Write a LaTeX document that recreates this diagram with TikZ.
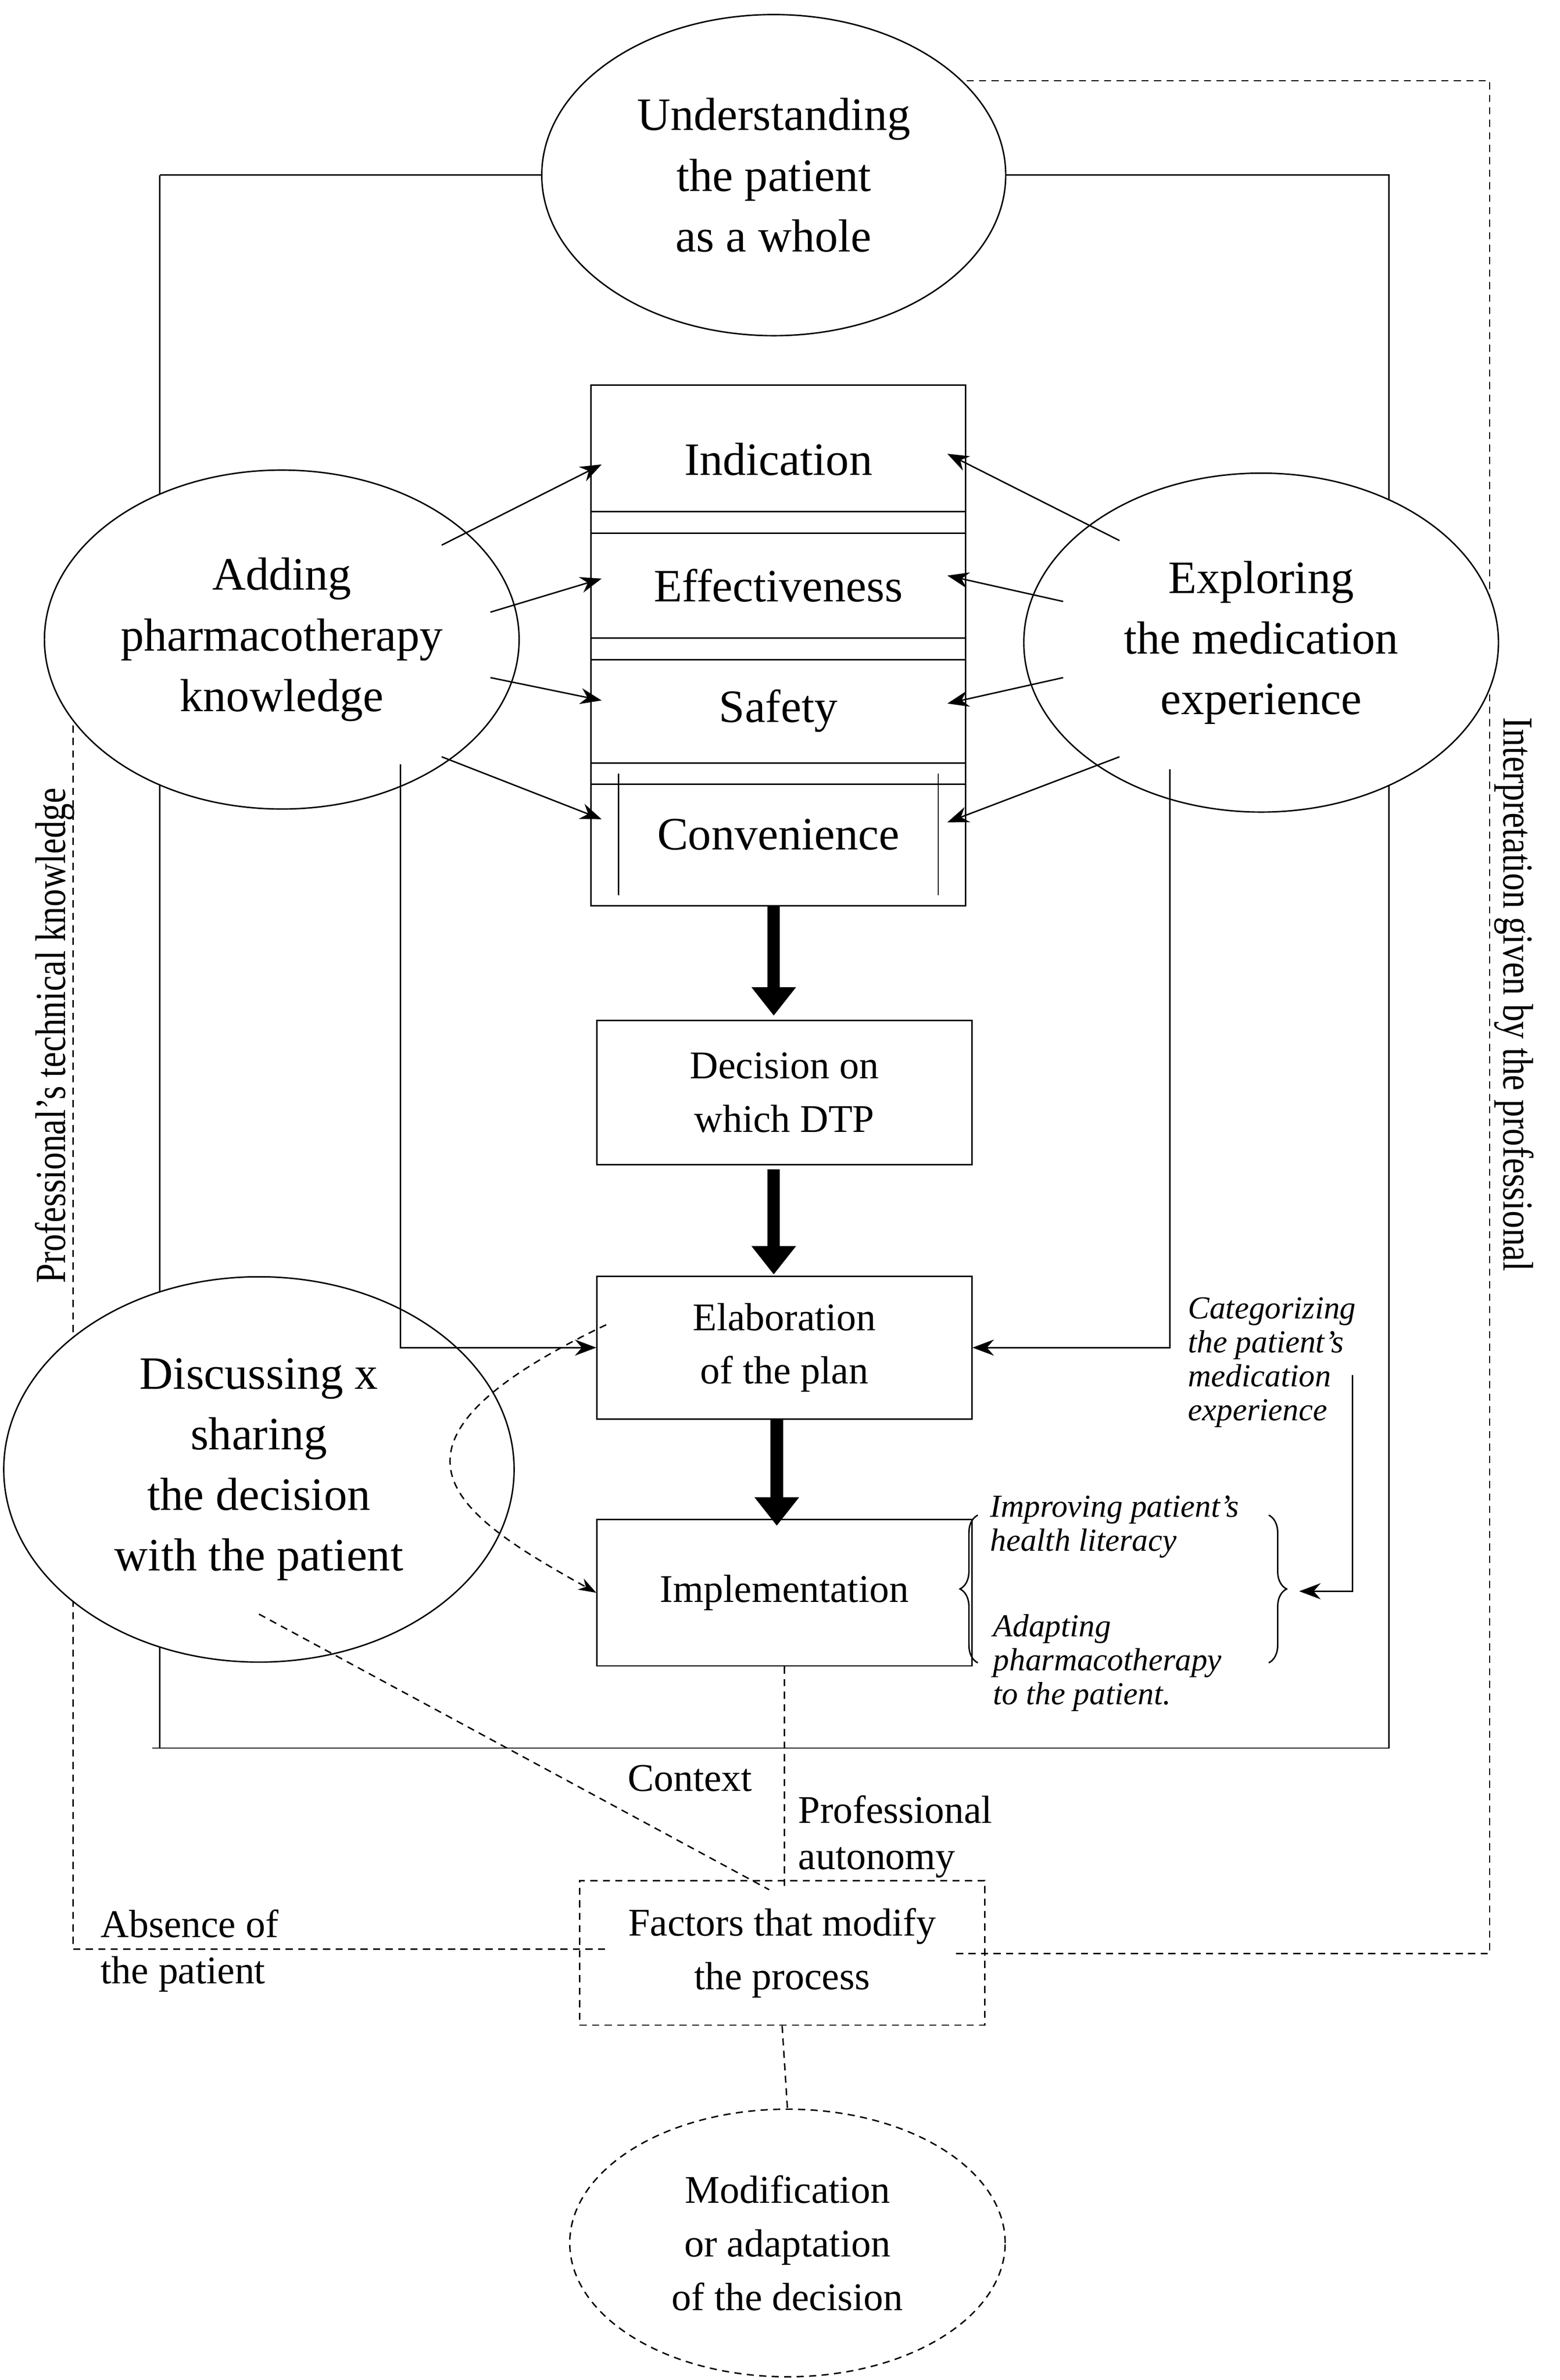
\documentclass[tikz,border=0pt]{standalone}
\usepackage{fontspec}
\setmainfont{Liberation Serif}
\usetikzlibrary{shapes.geometric,arrows.meta,decorations.pathreplacing}
\begin{document}
\begin{tikzpicture}[x=0.03cm,y=-0.03cm,
  big/.style={font=\fontsize{26}{34}\selectfont,align=center},
  mid/.style={font=\fontsize{22}{30}\selectfont,align=center},
  sm/.style={font=\fontsize{18}{19}\selectfont\itshape,align=left},
  lab/.style={font=\fontsize{22}{26}\selectfont,align=left},
  ell/.style={draw,ellipse,fill=white,inner sep=0pt,line width=0.8pt},
  box/.style={draw,rectangle,inner sep=0pt,line width=0.8pt},
  ln/.style={line width=0.8pt},
  dsh/.style={line width=0.8pt,dash pattern=on 4pt off 3pt},
  arr/.style={ln,-{Stealth[length=12pt,width=9pt]}},
  thick arr/.style={line width=7pt,-{Triangle[length=16pt,width=24pt]}}]
\useasboundingbox[fill=white] (0,0) rectangle (1024,1563);
% outer frame
\draw[ln] (105,115) -- (912,115) -- (912,1148) -- (100,1148) -- (105,1148) -- (105,115);
% dashed right frame
\draw[dsh] (610,53) -- (978,53) -- (978,1283) -- (627,1283);
% dashed left
\draw[dsh] (48,460) -- (48,1280) -- (400,1280);
% ellipses
\node[ell,big,minimum width=260,minimum height=180] (top) at (508,115) {Understanding\\the patient\\as a whole};
\node[ell,big,minimum width=266,minimum height=190] (add) at (185,420) {Adding\\pharmacotherapy\\knowledge};
\node[ell,big,minimum width=266,minimum height=190] (exp) at (828,422) {Exploring\\the medication\\experience};
\node[ell,big,minimum width=286,minimum height=216] (dis) at (170,965) {Discussing x\\sharing\\the decision\\with the patient};
% stack boxes
\node[box,big,minimum width=210,minimum height=83] (ind) at (511,301.5) {Indication};
\node[box,big,minimum width=210,minimum height=83] (eff) at (511,384.5) {Effectiveness};
\node[box,big,minimum width=210,minimum height=82] (saf) at (511,467) {Safety};
\node[box,big,minimum width=210,minimum height=80] (con) at (511,548) {Convenience};
\draw[ln] (406,588) -- (406,508); \draw[ln] (616,588) -- (616,508);
\node[box,mid,minimum width=210,minimum height=81] (dec) at (515,717.5) {Decision on\\which DTP};
\node[box,mid,minimum width=210,minimum height=80] (ela) at (515,885) {Elaboration\\of the plan};
\node[box,mid,minimum width=210,minimum height=82] (imp) at (515,1046) {Implementation};
\node[draw,dsh,mid,minimum width=227,minimum height=81,inner sep=0pt] (fac) at (513.5,1282.5) {Factors that modify\\the process};
\node[ell,dsh,mid,minimum width=244,minimum height=150] (mod) at (517,1473) {Modification\\or adaptation\\of the decision};
% thick arrows
\draw[thick arr] (508,595) -- (508,667);
\draw[thick arr] (508,768) -- (508,837);
\draw[thick arr] (510,932) -- (510,1002);
% thin arrows left
\draw[arr] (290,358) -- (395,305);
\draw[arr] (322,402) -- (395,380);
\draw[arr] (322,445) -- (395,460);
\draw[arr] (290,497) -- (395,538);
% thin arrows right
\draw[arr] (735,355) -- (622,298);
\draw[arr] (698,395) -- (622,378);
\draw[arr] (698,445) -- (622,462);
\draw[arr] (735,497) -- (622,540);
% to elaboration
\draw[arr] (263,502) -- (263,885) -- (ela.west);
\draw[arr] (768,505) -- (768,885) -- (ela.east);
% categorizing
\node[sm,anchor=north west] (cat) at (776,848) {Categorizing\\the patient's\\medication\\experience};
\coordinate (c1) at (888,903);
\coordinate (c2) at (853,1045);
\draw[arr] (c1) -- (888,1045) -- (c2);
\draw[ln,decorate,decoration={brace,amplitude=10pt}] (642,1092) -- (642,995);
\draw[ln,decorate,decoration={brace,amplitude=10pt}] (833,995) -- (833,1092);
\node[sm,anchor=north west] (imp1) at (646,978) {Improving patient's\\health literacy};
\node[sm,anchor=north west] (imp2) at (648,1056) {Adapting\\pharmacotherapy\\to the patient.};
% dashed curve
\draw[dsh,-{Stealth[length=10pt,width=7pt]}] (398,870) .. controls (230,950) and (300,995) .. (imp.west);
% dashed to factors
\draw[dsh] (170,1060) -- (505,1241);
\draw[dsh] (imp.south) -- (515,1241);
\draw[dsh] (fac.south) -- (mod.north);
% labels
\node[lab,anchor=north west] (ctx) at (408,1155) {Context};
\node[lab,anchor=north west] (pa) at (520,1175) {Professional\\autonomy};
\node[lab,anchor=north west] (abs) at (62,1250) {Absence of\\the patient};
\node[rotate=90,font=\fontsize{24}{24}\selectfont] (ptk) at (36,680) {\scalebox{0.82}[1]{Professional's technical knowledge}};
\node[rotate=-90,font=\fontsize{24}{24}\selectfont] (igp) at (994,653) {\scalebox{0.82}[1]{Interpretation given by the professional}};
\end{tikzpicture}
\end{document}
